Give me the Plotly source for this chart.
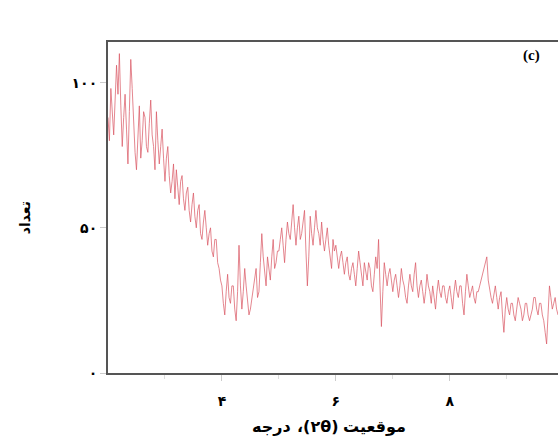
import plotly.graph_objects as go

# 2-theta positions (degrees) and counts
x_start = 2.0
x_step = 0.025
counts = [
    # 2.000 - 2.975
    88, 80, 98, 90, 82, 94, 106, 96, 110, 92, 78, 88, 96, 84, 72, 90, 108, 98, 86, 76,
    70, 84, 92, 74, 80, 90, 88, 78, 76, 86, 94, 82, 78, 70, 90, 80, 72, 78, 84, 74,
    # 3.000 - 3.975
    66, 74, 78, 68, 62, 66, 72, 60, 70, 64, 58, 66, 68, 60, 56, 62, 64, 56, 52, 58,
    62, 54, 50, 56, 58, 48, 46, 52, 56, 50, 44, 48, 50, 42, 40, 46, 46, 38, 36, 32,
    # 4.000 - 4.975
    30, 24, 20, 28, 34, 26, 24, 30, 30, 22, 18, 28, 44, 30, 22, 28, 36, 30, 26, 20,
    22, 26, 30, 34, 36, 26, 28, 38, 48, 40, 34, 30, 40, 36, 32, 40, 46, 36, 38, 42,
    # 5.000 - 5.975
    42, 46, 50, 44, 38, 46, 52, 48, 46, 52, 58, 50, 44, 50, 54, 46, 48, 52, 56, 42,
    30, 40, 54, 48, 44, 50, 56, 50, 48, 44, 52, 46, 42, 46, 50, 44, 40, 36, 46, 42,
    # 6.000 - 6.975
    44, 40, 36, 40, 42, 38, 34, 38, 40, 34, 32, 36, 38, 34, 30, 36, 42, 38, 34, 30,
    38, 34, 32, 38, 36, 30, 28, 34, 40, 36, 46, 30, 16, 28, 38, 34, 30, 34, 36, 32,
    # 7.000 - 7.975
    28, 32, 34, 30, 26, 30, 36, 32, 30, 26, 24, 30, 34, 30, 28, 34, 38, 30, 26, 30,
    32, 28, 24, 28, 34, 30, 28, 24, 30, 26, 22, 28, 32, 28, 26, 30, 30, 26, 24, 28,
    # 8.000 - 8.975
    30, 26, 22, 28, 32, 28, 26, 30, 30, 24, 20, 28, 34, 30, 26, 28, 30, 26, 24, 28,
    28, 30, 32, 34, 36, 38, 40, 32, 28, 26, 24, 28, 30, 26, 22, 26, 28, 20, 14, 22,
    # 9.000 - 9.900
    26, 22, 20, 24, 24, 20, 18, 22, 26, 24, 22, 18, 20, 24, 24, 20, 18, 20, 22, 26,
    26, 22, 20, 24, 24, 20, 18, 14, 10, 20, 30, 26, 22, 24, 26, 22, 20,
]
two_theta = [round(x_start + i * x_step, 4) for i in range(len(counts))]

x_tick_vals = [4, 6, 8]
x_tick_text = ["۴", "۶", "۸"]
x_minor_vals = [3, 5, 7, 9]
y_tick_vals = [0, 50, 100]
y_tick_text = ["۰", "۵۰", "۱۰۰"]

# x-axis title "موقعیت (۲θ)، درجه", set right-to-left as separate pieces
x_title_first = "موقعیت"   # rightmost
x_title_mid = "،(۲θ)"      # middle (visual order)
x_title_last = "درجه"      # leftmost
y_title = "تعداد"
panel_label = "(c)"

fig = go.Figure()
fig.add_trace(go.Scatter(
    x=two_theta, y=counts, mode="lines",
    line=dict(color="rgba(218,88,100,0.72)", width=1),
    showlegend=False,
))

font_fa = "DejaVu Sans"
fig.update_layout(
    width=558, height=440, autosize=False,
    margin=dict(l=108, r=0, t=42, b=67),
    paper_bgcolor="white", plot_bgcolor="white",
    xaxis=dict(
        range=[2.0, 9.9], tickvals=x_tick_vals, ticktext=x_tick_text,
        showline=True, linecolor="#555555", linewidth=2, mirror=True,
        ticks="outside", ticklen=6, tickcolor="#cccccc",
        minor=dict(tickvals=x_minor_vals, ticks="outside", ticklen=4, tickcolor="#dddddd"),
        showgrid=False, zeroline=False, ticklabelstandoff=8,
        tickfont=dict(family=font_fa, size=14, color="black", weight="bold"),
    ),
    yaxis=dict(
        range=[0, 114], tickvals=y_tick_vals, ticktext=y_tick_text,
        showline=True, linecolor="#555555", linewidth=2, mirror=False,
        ticks="outside", ticklen=6, tickcolor="#cccccc",
        showgrid=False, zeroline=False,
        tickfont=dict(family=font_fa, size=14, color="black", weight="bold"),
    ),
)

title_font = dict(family=font_fa, size=16, color="black", weight="bold")
title_y = -0.163
fig.add_annotation(
    text=x_title_last, xref="paper", yref="paper",
    x=0.41, y=title_y, xanchor="right", yanchor="middle", showarrow=False,
    font=title_font,
)
fig.add_annotation(
    text=x_title_mid, xref="paper", yref="paper",
    x=0.466, y=title_y, xanchor="center", yanchor="middle", showarrow=False,
    font=title_font,
)
fig.add_annotation(
    text=x_title_first, xref="paper", yref="paper",
    x=0.518, y=title_y, xanchor="left", yanchor="middle", showarrow=False,
    font=title_font,
)
fig.add_annotation(
    text=y_title, xref="paper", yref="paper",
    x=-0.184, y=0.468, xanchor="center", yanchor="middle", showarrow=False,
    textangle=-90,
    font=dict(family=font_fa, size=14, color="black", weight="bold"),
)
fig.add_annotation(
    text=panel_label, xref="paper", yref="paper",
    x=0.942, y=0.958, xanchor="center", yanchor="middle", showarrow=False,
    font=dict(family="Liberation Serif", size=15, color="black", weight="bold"),
)

post = (
    "document.body.style.margin='0';"
    "var gd=document.getElementById('{plot_id}');"
    "Plotly.relayout(gd,{width:558,height:440});"
)
fig.write_html("out.html", config={"responsive": False, "displayModeBar": False},
               post_script=post)
